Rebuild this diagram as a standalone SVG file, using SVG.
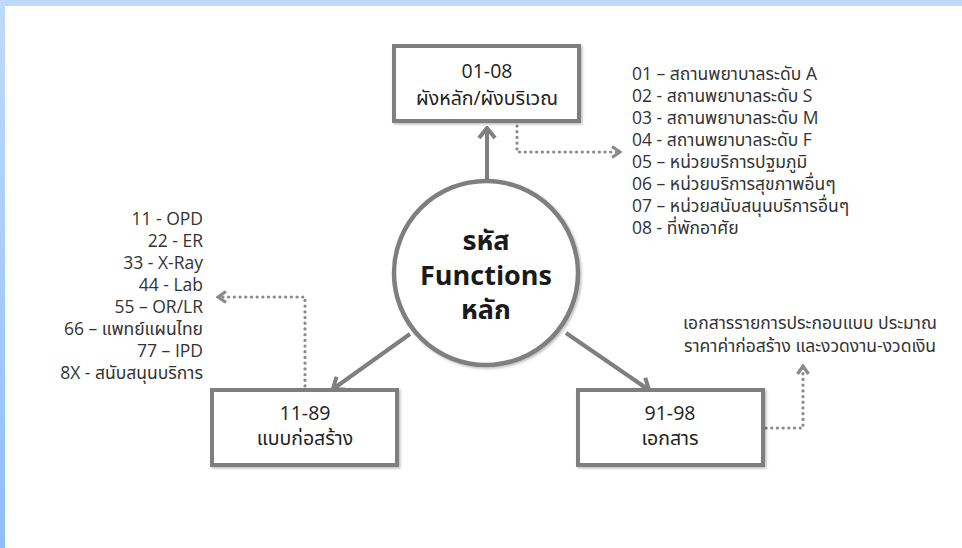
<svg xmlns="http://www.w3.org/2000/svg" width="962" height="548" viewBox="0 0 962 548">
<defs>
  <linearGradient id="lg" x1="0" y1="0" x2="0" y2="1">
    <stop offset="0" stop-color="#bfdafb"/>
    <stop offset="1" stop-color="#8ebdfd"/>
  </linearGradient>
  <filter id="sh" x="-10%" y="-10%" width="130%" height="130%">
    <feDropShadow dx="1.5" dy="1.5" stdDeviation="1" flood-color="#000" flood-opacity="0.25"/>
  </filter>
  <marker id="ah" viewBox="0 0 14 20" refX="12" refY="10" markerWidth="14" markerHeight="20" markerUnits="userSpaceOnUse" orient="auto">
    <path d="M2,2 L12,10 L2,18" fill="none" stroke="#7f7f7f" stroke-width="4"/>
  </marker>
  <marker id="ad" viewBox="0 0 12 14" refX="10" refY="7" markerWidth="12" markerHeight="14" markerUnits="userSpaceOnUse" orient="auto">
    <path d="M2,1.5 L10,7 L2,12.5" fill="none" stroke="#8a8a8a" stroke-width="3.2"/>
  </marker>
  <style>
    .box{fill:#fff;stroke:#7f7f7f;stroke-width:4}
    .t{font-family:"Open Sans","Noto Sans","Noto Sans Thai","Noto Sans Thai UI","Leelawadee UI",sans-serif;fill:#333;font-size:17.5px}
    .bt{font-size:19.5px;text-anchor:middle;fill:#222}
    .ct{font-size:27px;font-weight:bold;text-anchor:middle;fill:#1a1a1a}
    .solid{fill:none;stroke:#7f7f7f;stroke-width:4;marker-end:url(#ah)}
    .dot{fill:none;stroke:#8a8a8a;stroke-width:3.2;stroke-linecap:round;stroke-dasharray:0.1 5.6;marker-end:url(#ad)}
  </style>
</defs>
<rect width="962" height="548" fill="#fff"/>
<rect x="0" y="0" width="962" height="6" fill="#bcd8fb"/>
<rect x="0" y="0" width="5" height="548" fill="url(#lg)"/>

<g id="connectors">
  <line class="solid" x1="487" y1="181" x2="487" y2="128"/>
  <line class="solid" x1="410" y1="334" x2="333" y2="389"/>
  <line class="solid" x1="566" y1="333" x2="649" y2="390"/>
  <polyline class="dot" points="517,126 517,152 620,152"/>
  <polyline class="dot" points="305,386 305,297 218,297"/>
  <polyline class="dot" points="766,428 803,428 803,366"/>
</g>

<g id="center">
  <circle cx="486" cy="273" r="92" fill="#fff" stroke="#7f7f7f" stroke-width="4.5" filter="url(#sh)"/>
  <text class="t ct" x="486" y="250">รหัส</text>
  <text class="t ct" x="486" y="285">Functions</text>
  <text class="t ct" x="486" y="319">หลัก</text>
</g>

<g id="node-top">
  <rect class="box" x="394" y="46" width="185" height="75" filter="url(#sh)"/>
  <text class="t bt" x="487" y="78">01-08</text>
  <text class="t bt" x="487" y="105">ผังหลัก/ผังบริเวณ</text>
</g>

<g id="node-left">
  <rect class="box" x="212" y="390" width="185" height="75" filter="url(#sh)"/>
  <text class="t bt" x="305" y="420">11-89</text>
  <text class="t bt" x="305" y="445">แบบก่อสร้าง</text>
</g>

<g id="node-right">
  <rect class="box" x="578" y="390" width="185" height="75" filter="url(#sh)"/>
  <text class="t bt" x="670" y="420">91-98</text>
  <text class="t bt" x="670" y="445">เอกสาร</text>
</g>

<g id="list-top">
  <text class="t" x="632" y="80">01 – สถานพยาบาลระดับ A</text>
  <text class="t" x="632" y="102">02 - สถานพยาบาลระดับ S</text>
  <text class="t" x="632" y="124">03 - สถานพยาบาลระดับ M</text>
  <text class="t" x="632" y="146">04 - สถานพยาบาลระดับ F</text>
  <text class="t" x="632" y="168">05 – หน่วยบริการปฐมภูมิ</text>
  <text class="t" x="632" y="190">06 – หน่วยบริการสุขภาพอื่นๆ</text>
  <text class="t" x="632" y="212">07 – หน่วยสนับสนุนบริการอื่นๆ</text>
  <text class="t" x="632" y="234">08 - ที่พักอาศัย</text>
</g>

<g id="list-left" text-anchor="end">
  <text class="t" x="203" y="225">11 - OPD</text>
  <text class="t" x="203" y="247">22 - ER</text>
  <text class="t" x="203" y="269">33 - X-Ray</text>
  <text class="t" x="203" y="291">44 - Lab</text>
  <text class="t" x="203" y="313">55 – OR/LR</text>
  <text class="t" x="203" y="335">66 – แพทย์แผนไทย</text>
  <text class="t" x="203" y="357">77 – IPD</text>
  <text class="t" x="203" y="379">8X - สนับสนุนบริการ</text>
</g>

<g id="note-right" text-anchor="middle">
  <text class="t" x="810" y="329">เอกสารรายการประกอบแบบ ประมาณ</text>
  <text class="t" x="810" y="352">ราคาค่าก่อสร้าง และงวดงาน-งวดเงิน</text>
</g>
</svg>
